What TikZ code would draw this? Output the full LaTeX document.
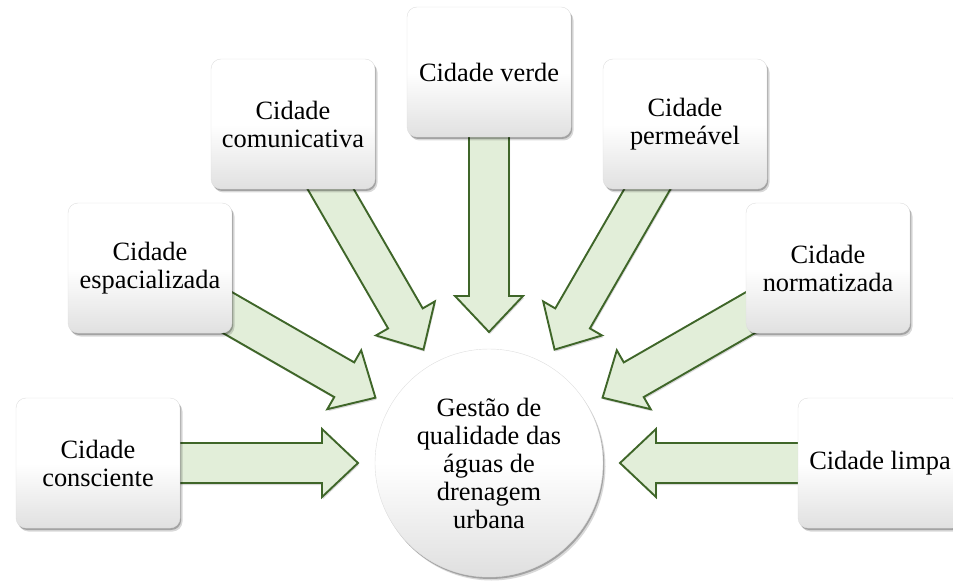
\documentclass[tikz,border=0pt]{standalone}
\usepackage{fontspec}
\setmainfont{Liberation Serif}
\usetikzlibrary{calc,shadows,backgrounds}
\definecolor{arrfill}{HTML}{E2EED9}
\definecolor{arrline}{HTML}{3F6629}
\tikzset{
  softshadow/.style={
    drop shadow={shadow xshift=2.5pt, shadow yshift=-3.5pt, opacity=0.15, fill=black},
    drop shadow={shadow xshift=1.2pt, shadow yshift=-2pt, opacity=0.25, fill=black}},
  citybox/.style={rectangle, rounded corners=10pt, minimum width=164pt, minimum height=130pt,
    inner sep=0pt, align=center, draw=gray!25, line width=0.4pt,
    top color=white, bottom color=gray!24, middle color=white, softshadow,
    font=\fontsize{26.4}{28}\selectfont},
  hub/.style={circle, minimum size=228pt, inner sep=0pt, align=center, draw=gray!25, line width=0.4pt,
    top color=white, bottom color=gray!25, middle color=white, softshadow,
    font=\fontsize{26.4}{28}\selectfont},
  flowarr/.style={fill=arrfill, draw=arrline, line width=1.9pt, line join=miter,
    drop shadow={shadow xshift=1pt, shadow yshift=-2pt, opacity=0.15, fill=black}}
}
\newcommand\flowarrow[2]{%
  \path ($(#2)!36pt!(#1.center)$) coordinate (#2hb);
  \draw[flowarr] ($(#1.center)!20pt!90:(#2)$) -- ($(#2hb)!20pt!90:(#2)$)
    -- ($(#2hb)!34pt!90:(#2)$) -- (#2) -- ($(#2hb)!34pt!-90:(#2)$)
    -- ($(#2hb)!20pt!-90:(#2)$) -- ($(#1.center)!20pt!-90:(#2)$) -- cycle;}
\begin{document}
\begin{tikzpicture}[x=1pt,y=-1pt]
\useasboundingbox (0,0) rectangle (953,585);
\clip (0,0) rectangle (953,585);
\node[hub] (c) at (489,463) {Gestão de\\qualidade das\\águas de\\drenagem\\urbana};
\node[citybox] (b1) at (98,463) {Cidade\\consciente};
\node[citybox] (b2) at (150,268) {Cidade\\espacializada};
\node[citybox] (b3) at (293,124) {Cidade\\comunicativa};
\node[citybox] (b4) at (489,72) {Cidade verde};
\node[citybox] (b5) at (685,124) {Cidade\\permeável};
\node[citybox] (b6) at (828,268) {Cidade\\normatizada};
\node[citybox] (b7) at (880,463) {Cidade limpa};
\foreach \i in {1,...,7}{
  \coordinate (t\i) at ($(c.center)!131pt!(b\i.center)$);
}
\begin{pgfonlayer}{background}
\foreach \i in {1,...,7}{
  \flowarrow{b\i}{t\i}
}
\end{pgfonlayer}
\end{tikzpicture}
\end{document}
